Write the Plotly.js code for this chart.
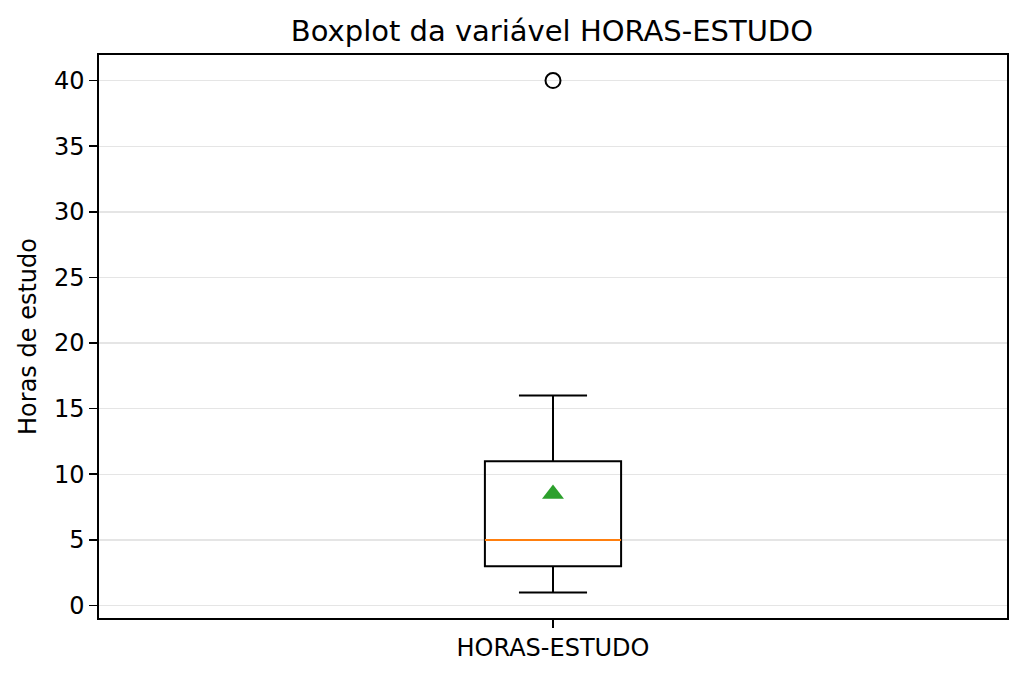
<!DOCTYPE html>
<html>
<head>
<meta charset="utf-8">
<script src="https://cdn.plot.ly/plotly-3.0.1.min.js"></script>
<style>
  html, body { margin: 0; padding: 0; background: #fff; }
  #chart { width: 1024px; height: 677px; }
</style>
</head>
<body>
<div id="chart"></div>
<script>
// Summary of HORAS-ESTUDO
const categories = ['HORAS-ESTUDO'];
const positions = [1];
const q1 = [3];
const median = [5];
const q3 = [11];
const lowerFence = [1];
const upperFence = [16];
const means = [8.5];
const outliers = [40];

const yTicks = [0, 5, 10, 15, 20, 25, 30, 35, 40];

const BOX_WIDTH = 0.15;
const FONT = 'DejaVu Sans, sans-serif';

const traces = [];

// Box + whiskers (matplotlib style: black outline, no fill)
traces.push({
    type: 'box',
    x: positions,
    q1: q1,
    median: median,
    q3: q3,
    lowerfence: lowerFence,
    upperfence: upperFence,
    width: BOX_WIDTH,
    whiskerwidth: 0.5,
    boxpoints: false,
    fillcolor: 'rgba(0,0,0,0)',
    line: { color: '#000000', width: 2 },
    hoverinfo: 'skip',
    showlegend: false,
});

// Orange median line drawn over the box
traces.push({
    type: 'scatter',
    mode: 'lines',
    x: [positions[0] - BOX_WIDTH / 2, positions[0] + BOX_WIDTH / 2],
    y: [median[0], median[0]],
    line: { color: '#ff7f0e', width: 2 },
    hoverinfo: 'skip',
    showlegend: false,
});

// Mean marker
traces.push({
    type: 'scatter',
    mode: 'markers',
    x: positions,
    y: means,
    marker: { symbol: 'triangle-up', size: 19, color: '#2ca02c' },
    showlegend: false,
});

// Outlier
traces.push({
    type: 'scatter',
    mode: 'markers',
    x: outliers.map(() => positions[0]),
    y: outliers,
    marker: { symbol: 'circle-open', size: 15, color: '#000000', line: { width: 2 } },
    showlegend: false,
});

const layout = {
    width: 1024,
    height: 677,
    margin: { l: 99, r: 17, t: 55, b: 59 },
    paper_bgcolor: '#ffffff',
    plot_bgcolor: '#ffffff',
    font: { family: FONT, size: 24, color: '#000000' },
    title: {
        text: 'Boxplot da variável HORAS-ESTUDO',
        font: { family: FONT, size: 29, color: '#000000' },
        x: 0.539, xanchor: 'center',
        y: 0.954, yanchor: 'middle',
    },
    xaxis: {
        range: [0.5, 1.5],
        tickmode: 'array',
        tickvals: positions,
        ticktext: categories,
        ticks: 'outside',
        ticklen: 8,
        tickwidth: 1.6,
        tickcolor: '#000000',
        showline: true,
        linecolor: '#000000',
        linewidth: 1.6,
        mirror: true,
        showgrid: false,
        zeroline: false,
        tickfont: { family: FONT, size: 24 },
    },
    yaxis: {
        range: [-0.95, 41.95],
        tickmode: 'array',
        tickvals: yTicks,
        ticktext: yTicks.map(String),
        ticks: 'outside',
        ticklen: 8,
        tickwidth: 1.6,
        tickcolor: '#000000',
        showline: true,
        linecolor: '#000000',
        linewidth: 1.6,
        mirror: true,
        showgrid: true,
        gridcolor: '#e5e5e5',
        gridwidth: 1.4,
        zeroline: false,
        tickfont: { family: FONT, size: 24 },
        title: {
            text: 'Horas de estudo',
            font: { family: FONT, size: 24 },
            standoff: 10,
        },
    },
};

Plotly.newPlot('chart', traces, layout, { staticPlot: true, displayModeBar: false });
</script>
</body>
</html>
